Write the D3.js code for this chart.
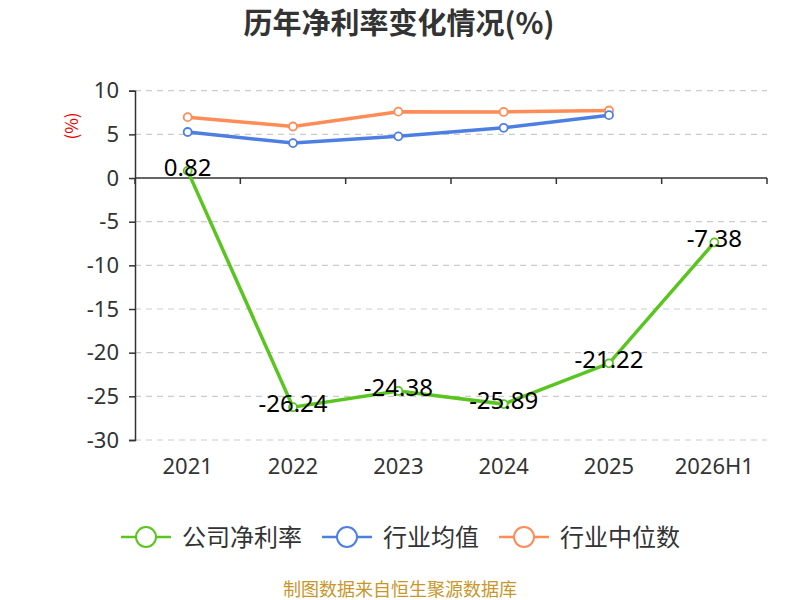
<!DOCTYPE html>
<html>
<head>
<meta charset="utf-8">
<script src="https://cdn.jsdelivr.net/npm/d3@7/dist/d3.min.js"></script>
<style>
  body { margin: 0; background: #fff; }
  svg { font-family: "Noto Sans CJK SC", "Noto Sans", sans-serif; }
</style>
</head>
<body>
<svg id="chart" width="800" height="600"></svg>
<script>
'use strict';

// Données
const annees = ["2021", "2022", "2023", "2024", "2025", "2026H1"];
const netSociete = [0.82, -26.24, -24.38, -25.89, -21.22, -7.38];
const moyenneSecteur = [5.27, 4.0, 4.77, 5.75, 7.2, null];
const medianeSecteur = [6.97, 5.9, 7.6, 7.57, 7.73, null];
const ticksY = [10, 5, 0, -5, -10, -15, -20, -25, -30];
const nomsSeries = ["公司净利率", "行业均值", "行业中位数"];
const couleurs = ["#5ac520", "#4d7fe3", "#ff8c57"];

const svg = d3.select("#chart");
const gauche = 135, droite = 767, haut = 90.7, bas = 440;
const policeChiffres = "'Noto Sans', sans-serif";

// Titre
svg.append("text")
    .attr("x", 399).attr("y", 34)
    .attr("text-anchor", "middle")
    .style("font-size", "29px").style("font-weight", "bold")
    .style("fill", "#333")
    .text("历年净利率变化情况(%)");

const x = d3.scaleBand().domain(annees).range([gauche, droite]);
const y = d3.scaleLinear().domain([-30, 10]).range([bas, haut]);

// Grille horizontale en pointillés
svg.append("g").selectAll("line")
    .data(ticksY.filter(d => d !== 0))
    .join("line")
    .attr("x1", gauche).attr("x2", droite)
    .attr("y1", d => y(d)).attr("y2", d => y(d))
    .style("stroke", "#ccc").style("stroke-width", 1.2)
    .style("stroke-dasharray", "6,5");

// Axe Y (trait d'union simple pour les négatifs)
const axeY = svg.append("g")
    .attr("transform", `translate(${gauche},0)`)
    .call(d3.axisLeft(y).tickValues(ticksY).tickSize(6).tickPadding(10)
        .tickFormat(d => String(d)));
axeY.select(".domain").style("stroke", "#333").style("stroke-width", 1.5);
axeY.selectAll(".tick line").style("stroke", "#333").style("stroke-width", 1.5);
axeY.selectAll("text").style("font-size", "22px").style("fill", "#333")
    .style("font-family", policeChiffres);

// Axe X sur la ligne zéro
const axeX = svg.append("g").attr("transform", `translate(0,${y(0)})`);
axeX.append("line")
    .attr("x1", gauche).attr("x2", droite)
    .style("stroke", "#333").style("stroke-width", 1.5);
axeX.selectAll("line.tick")
    .data(d3.range(annees.length + 1))
    .join("line")
    .attr("class", "tick")
    .attr("x1", i => gauche + i * x.step()).attr("x2", i => gauche + i * x.step())
    .attr("y1", 0).attr("y2", 6)
    .style("stroke", "#333").style("stroke-width", 1.5);

// Libellés des catégories en bas
svg.append("g").selectAll("text")
    .data(annees)
    .join("text")
    .attr("x", d => x(d) + x.bandwidth() / 2)
    .attr("y", 474)
    .attr("text-anchor", "middle")
    .style("font-size", "22px").style("fill", "#333")
    .style("font-family", policeChiffres)
    .text(d => d);

// Unité
svg.append("text")
    .attr("transform", "translate(78,126) rotate(-90)")
    .attr("text-anchor", "middle")
    .style("font-size", "17px").style("fill", "#e00")
    .text("(%)");

// Séries
const series = [netSociete, moyenneSecteur, medianeSecteur];
const ligne = d3.line()
    .defined(d => d.v !== null)
    .x(d => x(d.a) + x.bandwidth() / 2)
    .y(d => y(d.v));

[2, 1, 0].forEach(k => {
    const pts = annees.map((a, i) => ({a: a, v: series[k][i]}));
    svg.append("path")
        .datum(pts)
        .attr("d", ligne)
        .style("fill", "none")
        .style("stroke", couleurs[k])
        .style("stroke-width", 3.5);
    svg.append("g").selectAll("circle")
        .data(pts.filter(d => d.v !== null))
        .join("circle")
        .attr("cx", d => x(d.a) + x.bandwidth() / 2)
        .attr("cy", d => y(d.v))
        .attr("r", 4)
        .style("fill", "#fff")
        .style("stroke", couleurs[k])
        .style("stroke-width", 1.8);
});

// Étiquettes de valeur de la série société
svg.append("g").selectAll("text")
    .data(netSociete)
    .join("text")
    .attr("x", (d, i) => x(annees[i]) + x.bandwidth() / 2)
    .attr("y", d => y(d) + 5)
    .attr("text-anchor", "middle")
    .style("font-size", "24px").style("fill", "#000")
    .style("font-family", policeChiffres)
    .text(d => d.toFixed(2));

// Légende
const legende = svg.append("g");
const posLegende = [121, 322, 499];
nomsSeries.forEach((nom, k) => {
    const g = legende.append("g").attr("transform", `translate(${posLegende[k]},537)`);
    g.append("line").attr("x1", 0).attr("x2", 50)
        .style("stroke", couleurs[k]).style("stroke-width", 2.5);
    g.append("circle").attr("cx", 25).attr("r", 10)
        .style("fill", "#fff").style("stroke", couleurs[k]).style("stroke-width", 2);
    g.append("text").attr("x", 61).attr("y", 9)
        .style("font-size", "24px").style("fill", "#333")
        .text(nom);
});

// Source
svg.append("text")
    .attr("x", 400).attr("y", 596)
    .attr("text-anchor", "middle")
    .style("font-size", "18px").style("fill", "#c9962b")
    .text("制图数据来自恒生聚源数据库");
</script>
</body>
</html>
